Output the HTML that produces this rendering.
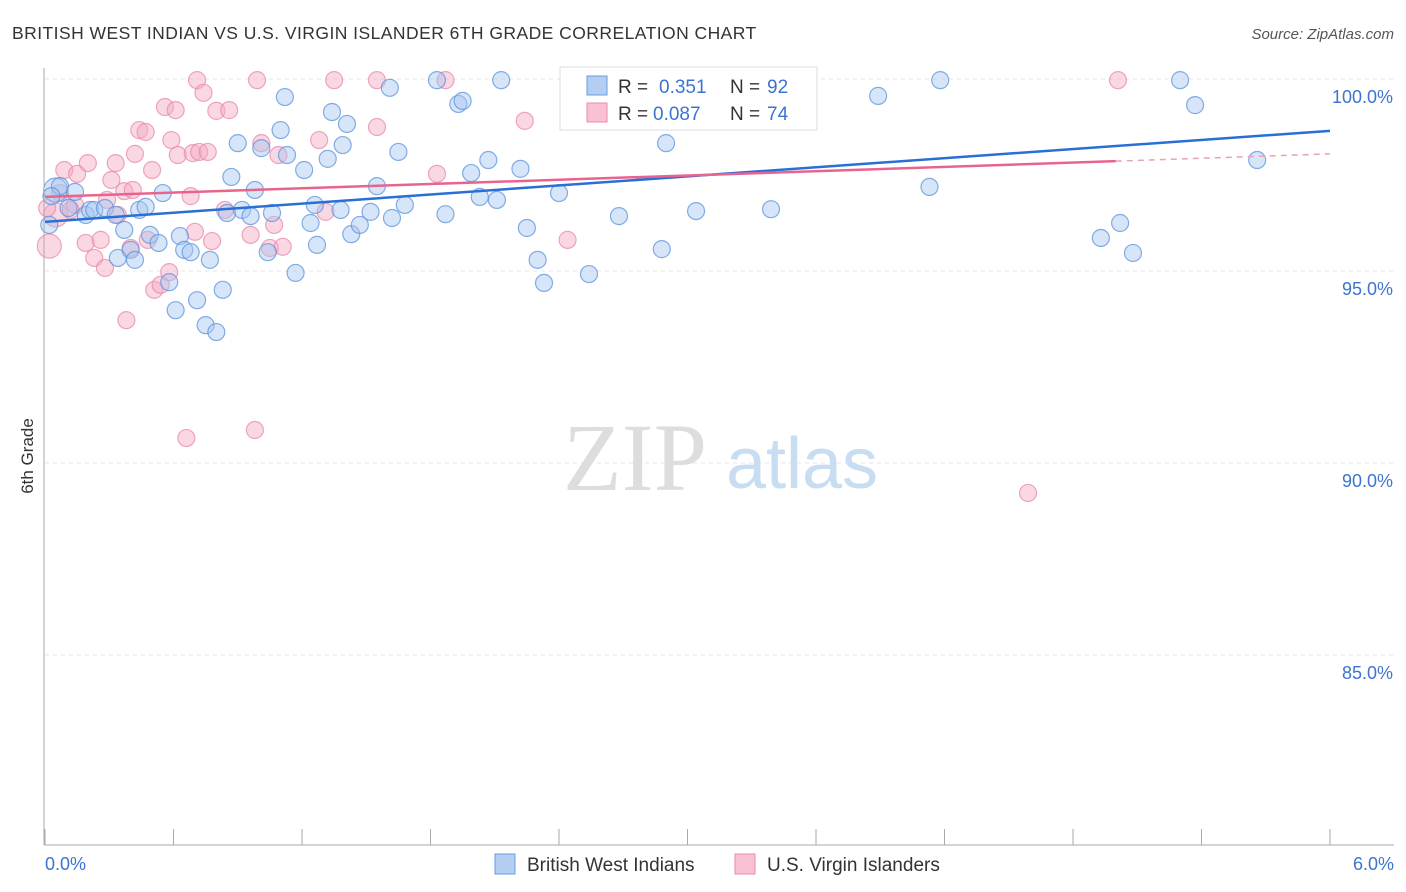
<!DOCTYPE html>
<html><head><meta charset="utf-8"><style>
body{margin:0;background:#fff;font-family:"Liberation Sans",sans-serif;}
svg{display:block}
</style></head><body>
<svg id="chart" width="1406" height="892" xmlns="http://www.w3.org/2000/svg">
<text x="12" y="39" font-size="17.5" fill="#333" letter-spacing="0.45">BRITISH WEST INDIAN VS U.S. VIRGIN ISLANDER 6TH GRADE CORRELATION CHART</text>
<text x="1394" y="39" font-size="15" fill="#555" font-style="italic" text-anchor="end">Source: ZipAtlas.com</text>
<g id="grid"></g>
<g>
<text x="635" y="490" font-size="96" font-family="Liberation Serif,serif" fill="#ddd" text-anchor="middle">ZIP</text>
<text x="802" y="488" font-size="72" fill="#c8dcf2" text-anchor="middle">atlas</text>
</g>
<g id="pts"></g>
<g id="trend"></g>
<line x1="44" y1="68" x2="44" y2="845" stroke="#aaa"/>
<line x1="44" y1="845" x2="1394" y2="845" stroke="#aaa"/>
<text transform="translate(33,456) rotate(-90)" font-size="17" fill="#333" text-anchor="middle">6th Grade</text>
<text x="45" y="870" font-size="18" fill="#3b74d0">0.0%</text>
<text x="1394" y="870" font-size="18" fill="#3b74d0" text-anchor="end">6.0%</text>
<g>
<rect x="560" y="67" width="257" height="63" fill="#fff" stroke="#ddd"/>
<rect x="587" y="76" width="20" height="19" fill="#b3cdf3" stroke="#6a9de0"/>
<text x="618" y="93" font-size="19" fill="#333">R = </text><text x="659" y="93" font-size="19" fill="#3b74d0">0.351</text>
<text x="730" y="93" font-size="19" fill="#333">N = </text><text x="767" y="93" font-size="19" fill="#3b74d0">92</text>
<rect x="587" y="103" width="20" height="19" fill="#f9c2d3" stroke="#ec8aa9"/>
<text x="618" y="120" font-size="19" fill="#333">R = </text><text x="653" y="120" font-size="19" fill="#3b74d0">0.087</text>
<text x="730" y="120" font-size="19" fill="#333">N = </text><text x="767" y="120" font-size="19" fill="#3b74d0">74</text>
</g>
<g>
<rect x="495" y="854" width="20" height="20" fill="#b3cdf3" stroke="#6a9de0"/>
<text x="527" y="871" font-size="19" fill="#333">British West Indians</text></g>
<g>
<rect x="735" y="854" width="20" height="20" fill="#f9c2d3" stroke="#ec8aa9"/>
<text x="767" y="871" font-size="19" fill="#333">U.S. Virgin Islanders</text></g>
</svg>
<script>
const yTicks=[100,95,90,85];
const xTicks=[0,0.6,1.2,1.8,2.4,3.0,3.6,4.2,4.8,5.4,6.0];
const blueX=[0.05,0.07,0.03,0.02,0.11,0.14,0.19,0.21,0.23,0.28,0.33,0.34,0.37,0.40,0.42,0.44,0.47,0.49,0.53,0.55,0.58,0.61,0.63,0.65,0.68,0.71,0.75,0.77,0.80,0.83,0.85,0.87,0.90,0.92,0.96,0.98,1.01,1.04,1.06,1.10,1.12,1.13,1.17,1.21,1.24,1.26,1.27,1.32,1.34,1.38,1.39,1.41,1.43,1.47,1.52,1.55,1.61,1.62,1.65,1.68,1.83,1.87,1.93,1.95,1.99,2.03,2.07,2.11,2.13,2.22,2.25,2.30,2.33,2.40,2.54,2.68,2.88,2.90,3.04,3.39,3.50,3.89,4.13,4.18,4.93,5.02,5.08,5.30,5.37,5.66];
const blueY=[97.11,97.21,96.95,96.20,96.64,97.06,96.46,96.59,96.59,96.64,96.46,95.34,96.07,95.55,95.29,96.59,96.67,95.94,95.73,97.03,94.71,93.98,95.91,95.55,95.49,94.24,93.59,95.29,93.41,94.51,96.51,97.45,98.33,96.59,96.43,97.11,98.20,95.49,96.51,98.67,99.53,98.02,94.95,97.63,96.25,96.72,95.68,97.92,99.14,96.59,98.28,98.83,95.96,96.20,96.54,97.21,99.77,96.38,98.10,96.72,99.97,96.48,99.35,99.43,97.55,96.93,97.89,96.85,99.97,97.66,96.12,95.29,94.69,97.03,94.92,96.43,95.57,98.33,96.56,96.61,99.92,99.56,97.19,99.97,95.86,96.25,95.47,99.97,99.32,97.89];
const pinkX=[0.02,0.05,0.01,0.07,0.09,0.12,0.14,0.15,0.19,0.20,0.23,0.26,0.28,0.29,0.31,0.33,0.34,0.37,0.38,0.40,0.41,0.42,0.44,0.47,0.48,0.50,0.51,0.54,0.56,0.58,0.59,0.61,0.62,0.66,0.68,0.69,0.70,0.71,0.72,0.74,0.76,0.78,0.80,0.84,0.86,0.96,0.98,0.99,1.01,1.05,1.07,1.09,1.11,1.28,1.31,1.35,1.55,1.55,1.83,1.87,2.24,2.44,4.59,5.01];
const pinkY=[95.65,96.46,96.64,97.03,97.63,96.59,96.72,97.53,95.73,97.81,95.34,95.81,95.08,96.85,97.37,97.81,96.46,97.08,93.72,95.60,97.11,98.05,98.67,98.62,95.81,97.63,94.51,94.64,99.27,94.97,98.41,99.19,98.02,90.65,96.95,98.07,96.02,99.97,98.10,99.64,98.10,95.78,99.17,96.59,99.19,95.94,90.86,99.97,98.33,95.60,96.20,98.02,95.63,98.41,96.54,99.97,98.75,99.97,97.53,99.97,98.91,95.81,89.22,99.97];
const blueTrend=[96.28,98.65];
const pinkTrend=[96.93,97.86,98.05];
const NS='http://www.w3.org/2000/svg';
const X=v=>45+v/6*1285;
const Y=v=>79+(100-v)*38.4;
function mk(tag,attrs,parent){const e=document.createElementNS(NS,tag);for(const k in attrs)e.setAttribute(k,attrs[k]);parent.appendChild(e);return e;}
const grid=document.getElementById('grid'),pts=document.getElementById('pts'),tr=document.getElementById('trend');
yTicks.forEach(t=>{
 const l=mk('line',{x1:45,x2:1394,y1:Y(t),y2:Y(t),stroke:'#e4e4e4','stroke-dasharray':'4,4'},grid);
 
 
 const tx=mk('text',{x:1393,y:Y(t)+24,'font-size':18,fill:'#3b74d0','text-anchor':'end'},grid);
 tx.textContent=t.toFixed(1)+'%';
 
 
});
xTicks.forEach(t=>{
 const l=mk('line',{x1:X(t),x2:X(t),y1:829,y2:845,stroke:'#aaa'},grid);
 
 
});
function dots(xs,ys,fill,stroke,name){
 xs.forEach((x,i)=>{
  const big=(x<0.06&&i<2);
  const c=mk('circle',{cx:X(x),cy:Y(ys[i]),r:big?12:8.5,fill:fill,'fill-opacity':0.45,stroke:stroke,'stroke-opacity':0.75,'stroke-width':1.2},pts);
  
  
 });
}
dots(pinkX,pinkY,'#f5a9c0','#e98aa8','pink-point');
dots(blueX,blueY,'#a6c6f0','#5b93dd','blue-point');
const bl=mk('line',{x1:X(0),y1:Y(blueTrend[0]),x2:X(6),y2:Y(blueTrend[1]),stroke:'#2a6fd6','stroke-width':2.5},tr);


const pl=mk('line',{x1:X(0),y1:Y(pinkTrend[0]),x2:X(5.0),y2:Y(pinkTrend[1]),stroke:'#e8648f','stroke-width':2.5},tr);


const pd=mk('line',{x1:X(5.0),y1:Y(pinkTrend[1]),x2:X(6),y2:Y(pinkTrend[2]),stroke:'#e8a0b8','stroke-width':1.5,'stroke-dasharray':'6,5'},tr);


</script>
</body></html>
